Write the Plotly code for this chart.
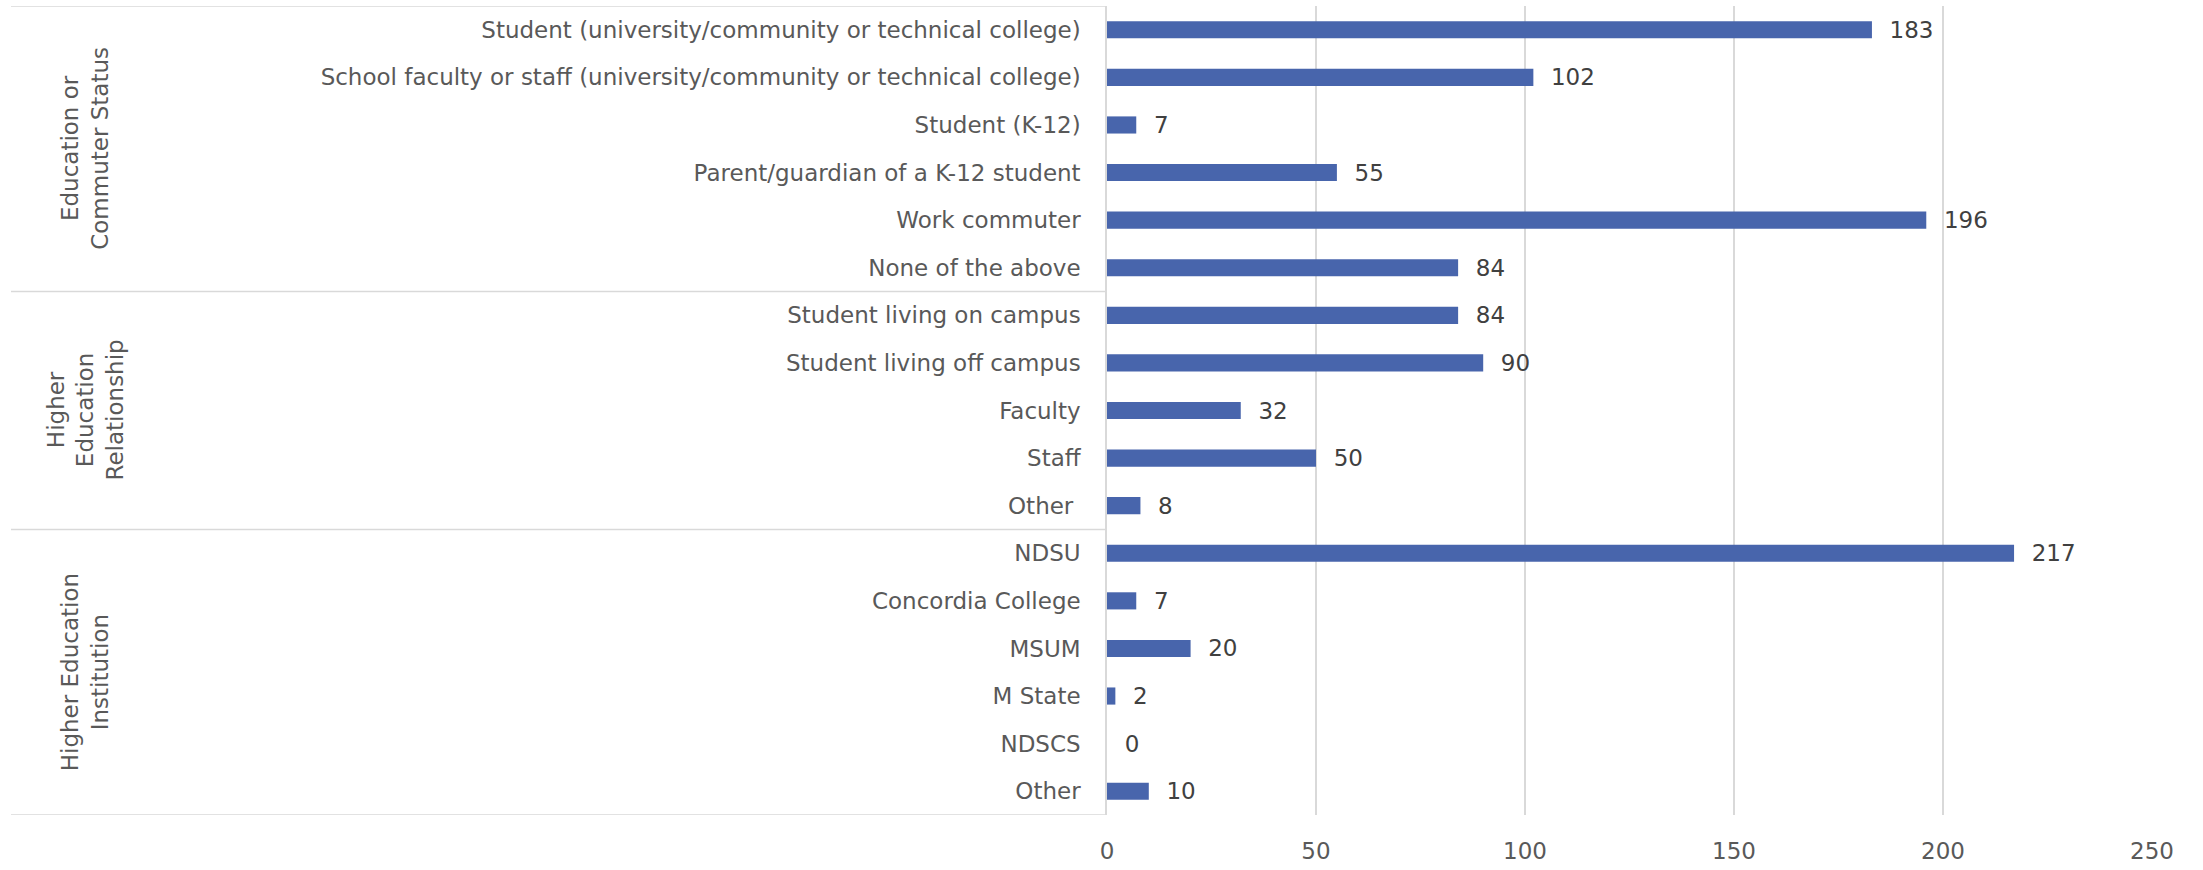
import plotly.graph_objects as go

# Survey response counts, grouped by question
groups = [
    "Education or<br>Commuter Status",
    "Higher<br>Education<br>Relationship",
    "Higher Education<br>Institution",
]
categories = [
    "Student (university/community or technical college)",
    "School faculty or staff (university/community or technical college)",
    "Student (K-12)",
    "Parent/guardian of a K-12 student",
    "Work commuter",
    "None of the above",
    "Student living on campus",
    "Student living off campus",
    "Faculty",
    "Staff",
    "Other ",
    "NDSU",
    "Concordia College",
    "MSUM",
    "M State",
    "NDSCS",
    "Other",
]
group_sizes = [6, 5, 6]
counts = [183, 102, 7, 55, 196, 84, 84, 90, 32, 50, 8, 217, 7, 20, 2, 0, 10]
x_ticks = [0, 50, 100, 150, 200, 250]

FONT = "DejaVu Sans"
FS = 23
LABEL_GREY = "#595959"
VALUE_GREY = "#404040"
LINE_GREY = "#D9D9D9"
BAR_BLUE = "#4865AC"

W, H = 2203, 870
M_L, M_R, M_T, M_B = 1107, 51, 6, 52
plot_w = W - M_L - M_R

fig = go.Figure(
    go.Bar(
        x=counts,
        y=list(range(len(categories))),
        orientation="h",
        marker=dict(color=BAR_BLUE, line=dict(width=0)),
        texttemplate="  %{x}",
        textposition="outside",
        constraintext="none",
        textfont=dict(family=FONT, size=FS, color=VALUE_GREY),
        cliponaxis=False,
        width=0.36,
        hoverinfo="skip",
    )
)

fig.update_layout(
    width=W,
    height=H,
    margin=dict(l=M_L, r=M_R, t=M_T, b=M_B, pad=0),
    paper_bgcolor="white",
    plot_bgcolor="white",
    showlegend=False,
    font=dict(family=FONT, size=FS, color=LABEL_GREY),
    xaxis=dict(
        range=[0, 250],
        tickvals=x_ticks,
        ticktext=[str(t) for t in x_ticks],
        showgrid=True,
        gridcolor=LINE_GREY,
        gridwidth=1.5,
        zeroline=False,
        showline=False,
        ticks="",
        ticklabelstandoff=20,
        tickfont=dict(family=FONT, size=FS, color=LABEL_GREY),
    ),
    yaxis=dict(
        range=[len(categories) - 0.5, -0.5],
        tickvals=list(range(len(categories))),
        ticktext=categories,
        showgrid=False,
        zeroline=False,
        showline=True,
        linecolor=LINE_GREY,
        linewidth=1.5,
        ticks="",
        ticklabelstandoff=20,
        tickfont=dict(family=FONT, size=FS, color=LABEL_GREY),
    ),
)

# Group frame: horizontal separators spanning the label column
left_edge = (11 - M_L) / plot_w
bounds = [-0.5]
for n in group_sizes:
    bounds.append(bounds[-1] + n)
for b in bounds:
    fig.add_shape(
        type="line", xref="paper", yref="y",
        x0=left_edge, x1=0, y0=b, y1=b,
        line=dict(color=LINE_GREY, width=1.5),
        layer="below",
    )

# Rotated group titles centred on each block of rows
group_x = (85 - M_L) / plot_w
for i, g in enumerate(groups):
    mid = (bounds[i] + bounds[i + 1]) / 2
    fig.add_annotation(
        text=g, xref="paper", yref="y", x=group_x, y=mid,
        textangle=-90, showarrow=False, align="center",
        xanchor="center", yanchor="middle",
        font=dict(family=FONT, size=FS, color=LABEL_GREY),
    )

fig.write_html("out.html")
